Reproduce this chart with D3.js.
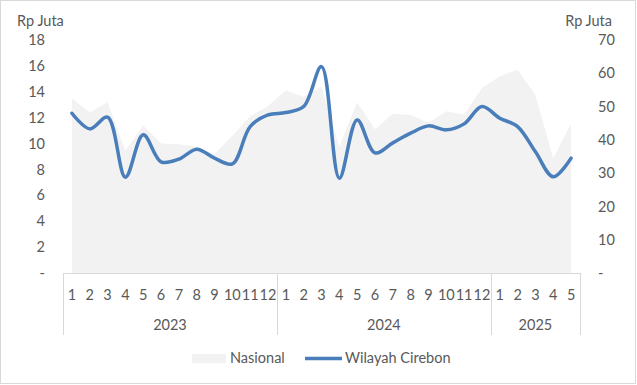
<!DOCTYPE html>
<html>
<head>
<meta charset="utf-8">
<script src="https://cdn.jsdelivr.net/npm/d3@7/dist/d3.min.js"></script>
<style>
  body { margin: 0; background: #fff; }
  svg text { font-family: Lato, "Liberation Sans", sans-serif; fill: #595959; }
</style>
</head>
<body>
<script>
// months per year
var years = ["2023", "2024", "2025"];
var monthsPerYear = [12, 12, 5];
var monthLabels = ["1","2","3","4","5","6","7","8","9","10","11","12",
                   "1","2","3","4","5","6","7","8","9","10","11","12",
                   "1","2","3","4","5"];

// Nasional (left axis, Rp Juta)
var nasional = [13.5, 12.4, 13.2, 9.45, 11.4, 10.0, 9.95, 9.75, 9.2, 10.6, 12.1, 12.9,
                14.1, 13.6, 14.4, 9.75, 13.2, 11.1, 12.3, 12.2, 11.6, 12.5, 12.25, 14.3,
                15.2, 15.7, 13.75, 8.85, 11.55];
// Wilayah Cirebon (right axis, Rp Juta)
var cirebon = [48.0, 43.3, 46.8, 28.8, 41.5, 33.4, 34.2, 37.2, 34.5, 32.8, 44.0, 47.5,
               48.2, 50.0, 62.0, 28.5, 46.0, 36.1, 39.1, 42.0, 44.2, 43.0, 44.8, 50.0,
               46.5, 44.0, 36.4, 28.9, 34.5];

var leftTicks = [0, 2, 4, 6, 8, 10, 12, 14, 16, 18];
var rightTicks = [0, 10, 20, 30, 40, 50, 60, 70];

var width = 637, height = 385;
var plotLeft = 63, plotRight = 580, plotTop = 40, plotBottom = 273;
var fs = "14.5px";

var svg = d3.select("body").append("svg")
    .attr("width", width)
    .attr("height", height);

// chart border
svg.append("rect")
    .attr("x", 0.5).attr("y", 0.5)
    .attr("width", width - 2).attr("height", height - 2)
    .attr("fill", "#fff")
    .attr("stroke", "#d9d9d9");

var x = d3.scalePoint()
    .domain(d3.range(monthLabels.length))
    .range([plotLeft, plotRight])
    .padding(0.5);

var yLeft = d3.scaleLinear().domain([0, 18]).range([plotBottom, plotTop]);
var yRight = d3.scaleLinear().domain([0, 70]).range([plotBottom, plotTop]);

// area
var area = d3.area()
    .x(function(d, i) { return x(i); })
    .y0(yLeft(0))
    .y1(function(d) { return yLeft(d); });

svg.append("path")
    .datum(nasional)
    .attr("d", area)
    .attr("fill", "#f2f2f2");

// line (smoothed)
var line = d3.line()
    .x(function(d, i) { return x(i); })
    .y(function(d) { return yRight(d); })
    .curve(d3.curveCatmullRom.alpha(0.5));

svg.append("path")
    .datum(cirebon)
    .attr("d", line)
    .attr("fill", "none")
    .attr("stroke", "#4a7ebb")
    .attr("stroke-width", 3.5)
    .attr("stroke-linecap", "round");

// left axis
var fmt = function(d) { return d === 0 ? "-" : d; };
var leftAxis = d3.axisLeft(yLeft).tickValues(leftTicks).tickFormat(fmt).tickSize(0).tickPadding(0);
var gl = svg.append("g").attr("transform", "translate(45,0)").call(leftAxis);
gl.select(".domain").remove();
gl.selectAll("text").attr("font-size", fs).attr("font-family", null);

var rightAxis = d3.axisRight(yRight).tickValues(rightTicks).tickFormat(fmt).tickSize(0).tickPadding(0);
var gr = svg.append("g").attr("transform", "translate(598,0)").call(rightAxis);
gr.select(".domain").remove();
gr.selectAll("text").attr("font-size", fs).attr("font-family", null);

// axis titles
svg.append("text").attr("x", 17).attr("y", 26).attr("font-size", fs).text("Rp Juta");
svg.append("text").attr("x", 612).attr("y", 26).attr("font-size", fs)
    .attr("text-anchor", "end").text("Rp Juta");

// category axis
var axisColor = "#d9d9d9";
svg.append("line")
    .attr("x1", plotLeft).attr("x2", plotRight)
    .attr("y1", plotBottom + 0.5).attr("y2", plotBottom + 0.5)
    .attr("stroke", axisColor);

var step = x.step();
var starts = [0];
monthsPerYear.forEach(function(n, i) { starts.push(starts[i] + n); });
starts.forEach(function(s) {
  var xx = Math.round(plotLeft + s * step) + 0.5;
  svg.append("line")
      .attr("x1", xx).attr("x2", xx)
      .attr("y1", plotBottom).attr("y2", 335)
      .attr("stroke", axisColor);
});

svg.append("g").selectAll("text")
    .data(monthLabels)
    .enter().append("text")
    .attr("x", function(d, i) { return x(i); })
    .attr("y", 300)
    .attr("text-anchor", "middle")
    .attr("font-size", fs)
    .text(function(d) { return d; });

svg.append("g").selectAll("text")
    .data(years)
    .enter().append("text")
    .attr("x", function(d, i) { return plotLeft + (starts[i] + monthsPerYear[i] / 2) * step; })
    .attr("y", 330)
    .attr("text-anchor", "middle")
    .attr("font-size", fs)
    .text(function(d) { return d; });

// legend
var lg = svg.append("g");
lg.append("rect").attr("x", 192).attr("y", 354).attr("width", 34).attr("height", 9).attr("fill", "#f2f2f2");
lg.append("text").attr("x", 230).attr("y", 363).attr("font-size", fs).text("Nasional");
lg.append("line").attr("x1", 305).attr("x2", 342).attr("y1", 358.5).attr("y2", 358.5)
    .attr("stroke", "#4a7ebb").attr("stroke-width", 3.5);
lg.append("text").attr("x", 345).attr("y", 363).attr("font-size", fs).text("Wilayah Cirebon");
</script>
</body>
</html>
